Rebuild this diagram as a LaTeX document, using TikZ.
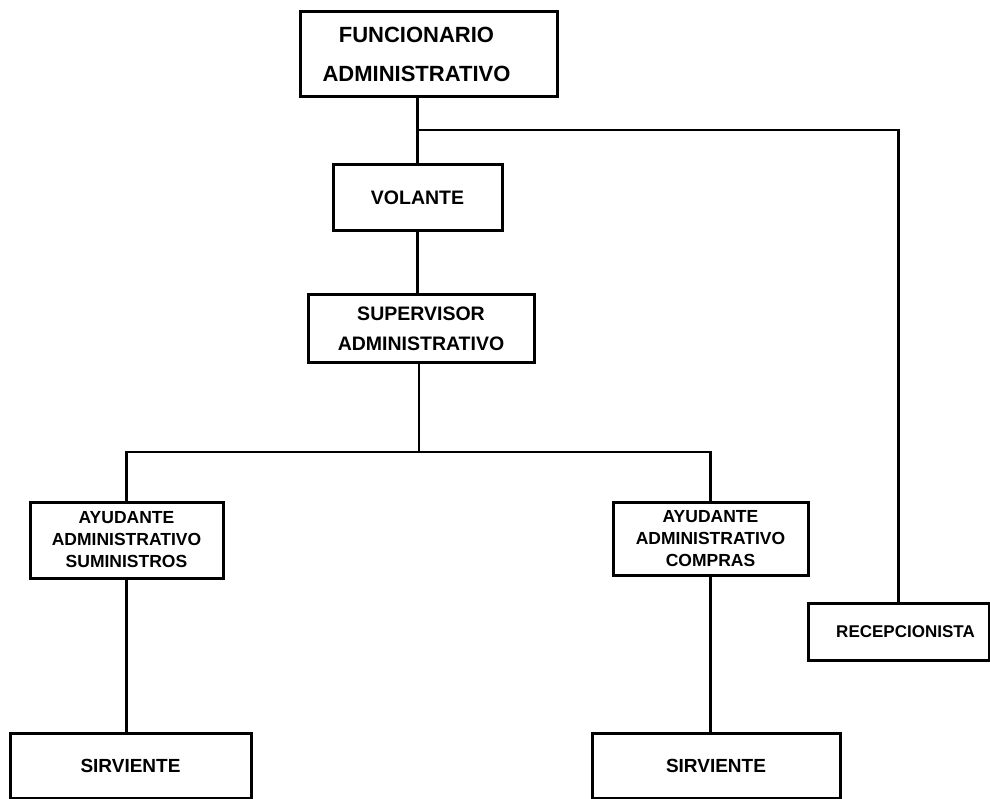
\documentclass[tikz,border=0pt]{standalone}
\usepackage{fontspec}
\setmainfont{Liberation Sans}
\begin{document}
\begin{tikzpicture}[x=1pt,y=-1pt,
  post/.style={draw=black, line width=3pt, inner sep=0pt, align=center,
    font=\bfseries},
  link/.style={draw=black, line width=2.4pt}]
\useasboundingbox (0,0) rectangle (990,799);

% posts (centre, width, height)
\node[post, minimum width=257pt, minimum height=85pt,
      font=\bfseries\fontsize{22}{39}\selectfont] (fa) at (428.5,54.5)
      {\hspace*{-24pt}FUNCIONARIO\\\hspace*{-24pt}ADMINISTRATIVO};
\node[post, minimum width=169pt, minimum height=66pt,
      font=\bfseries\fontsize{19.5}{24}\selectfont] (vol) at (417.5,198) {VOLANTE};
\node[post, minimum width=226pt, minimum height=67pt,
      font=\bfseries\fontsize{19.5}{30}\selectfont] (sup) at (421,328.5)
      {SUPERVISOR\\ADMINISTRATIVO};
\node[post, minimum width=193pt, minimum height=76pt,
      font=\bfseries\fontsize{17.5}{22}\selectfont] (ays) at (126.5,540)
      {AYUDANTE\\ADMINISTRATIVO\\SUMINISTROS};
\node[post, minimum width=195pt, minimum height=73pt,
      font=\bfseries\fontsize{17.5}{22}\selectfont] (ayc) at (710.5,538.5)
      {AYUDANTE\\ADMINISTRATIVO\\COMPRAS};
\node[post, minimum width=181pt, minimum height=57pt,
      font=\bfseries\fontsize{17}{22}\selectfont] (rec) at (898.5,631.5)
      {\hspace*{14pt}RECEPCIONISTA};
\node[post, minimum width=241pt, minimum height=65pt,
      font=\bfseries\fontsize{19}{24}\selectfont] (sv1) at (130.5,765.5) {SIRVIENTE};
\node[post, minimum width=248pt, minimum height=65pt,
      font=\bfseries\fontsize{19}{24}\selectfont] (sv2) at (716,765.5) {SIRVIENTE};

% junction points
\coordinate (j1) at (418,130);
\coordinate (j2) at (419,452);

% connectors
\draw[link] (vol.north |- fa.south) -- (vol.north);
\draw[link] (j1) -| (rec.north);
\draw[link] (vol.south) -- (vol.south |- sup.north);
\draw[link] (j2 |- sup.south) -- (j2);
\draw[link] (ays.north) |- (j2) -| (ayc.north);
\draw[link] (ays.south) -- (ays.south |- sv1.north);
\draw[link] (ayc.south) -- (ayc.south |- sv2.north);
\end{tikzpicture}
\end{document}
